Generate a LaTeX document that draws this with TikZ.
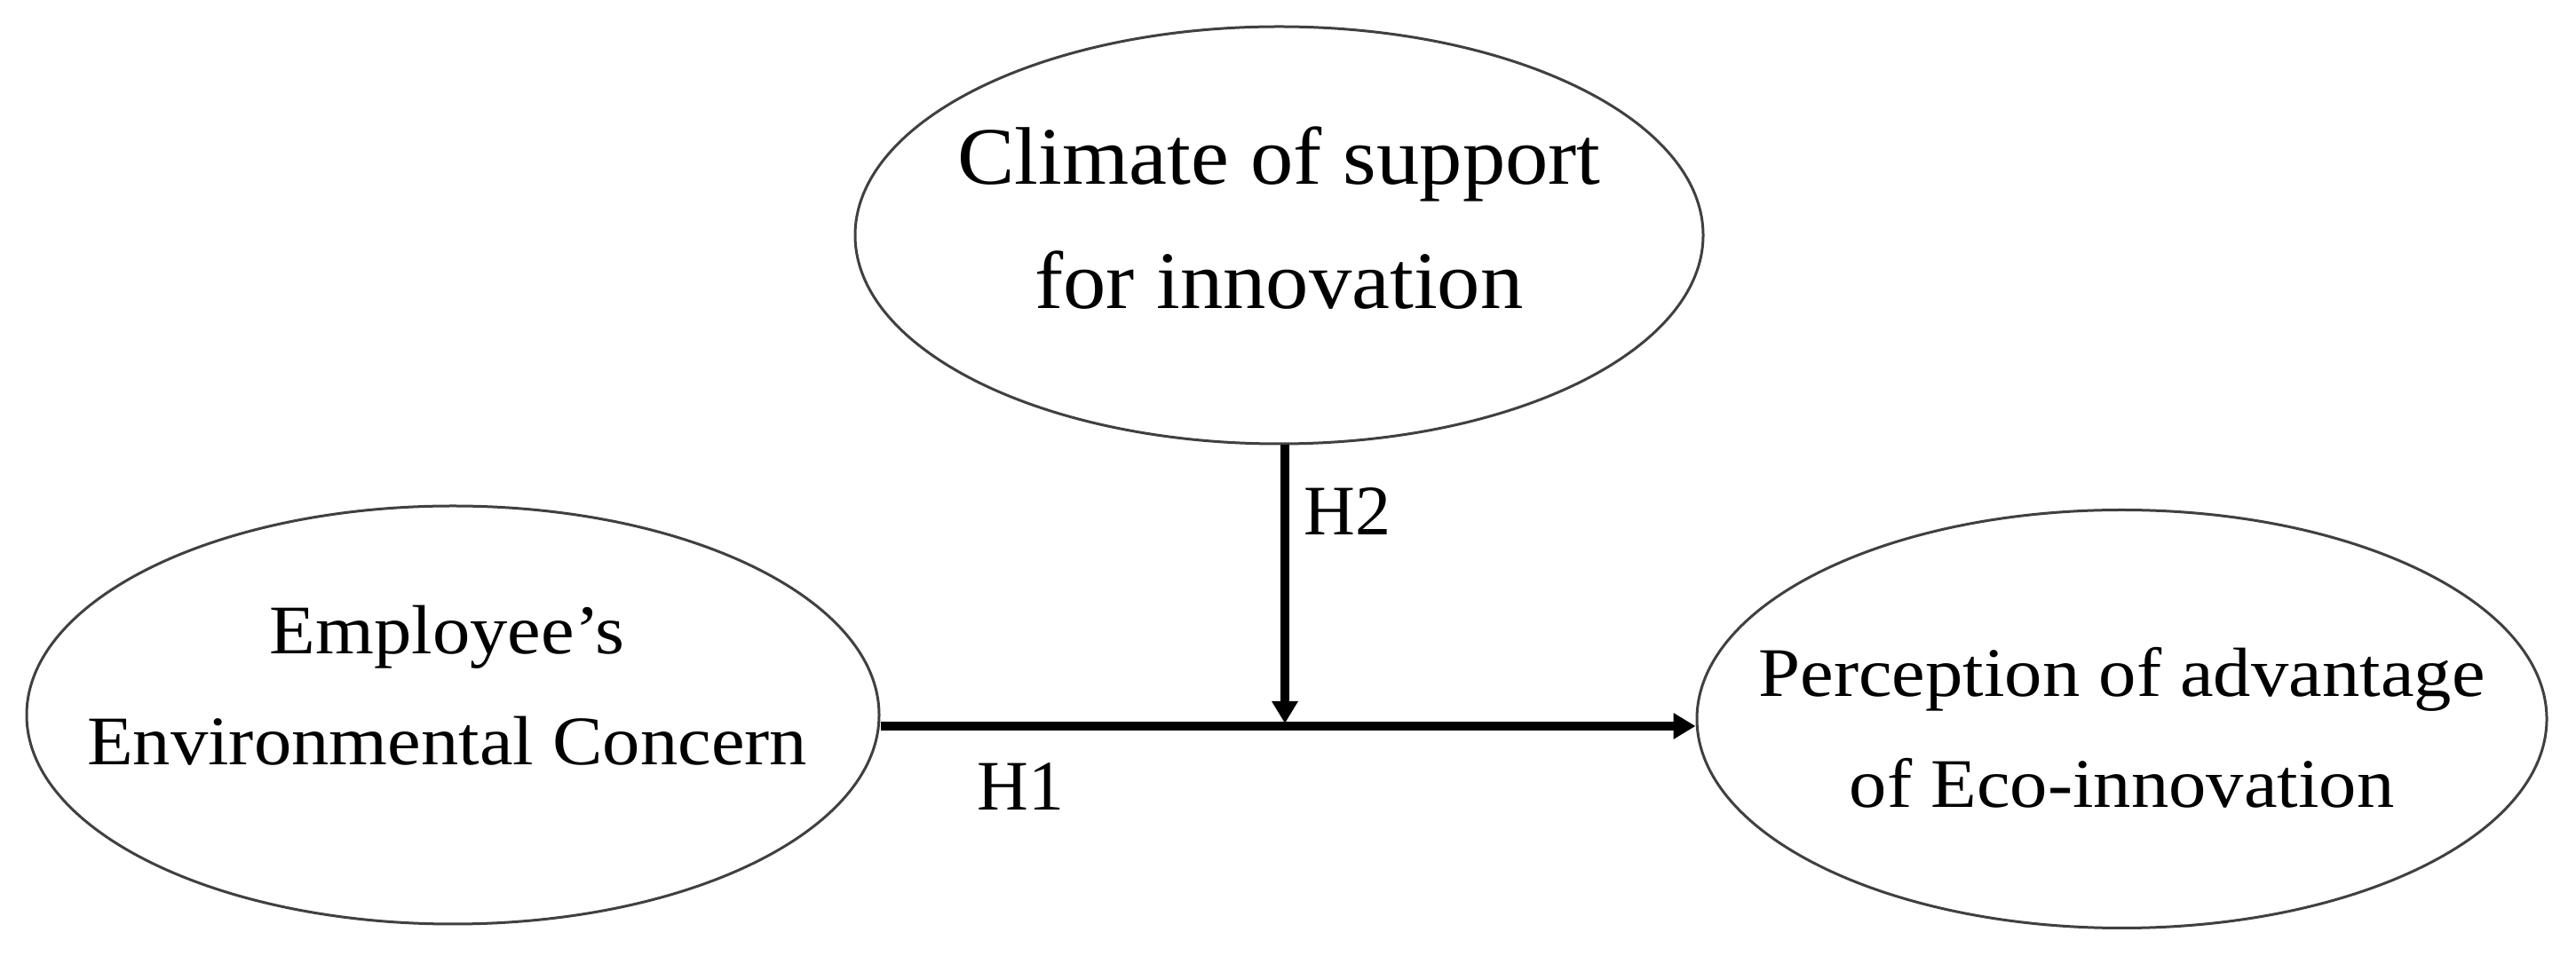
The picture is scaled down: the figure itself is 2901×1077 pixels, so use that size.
\documentclass[tikz,border=0pt]{standalone}
\usepackage{fontspec}
\setmainfont{Liberation Serif}
\newfontfamily\ovalfont[FakeStretch=1.08]{Liberation Serif}
\newfontfamily\topfont[FakeStretch=1.05]{Liberation Serif}
\usetikzlibrary{shapes.geometric,arrows.meta}
\definecolor{ovalgray}{gray}{0.25}
% two centred lines: x-offset (doubled), raise of line 1, raise of line 2
\newcommand\ovallines[5]{%
  \makebox[0pt]{\hspace*{#1}\raisebox{#2}[0pt][0pt]{#4}}%
  \makebox[0pt]{\hspace*{#1}\raisebox{#3}[0pt][0pt]{#5}}}
\begin{document}
\begin{tikzpicture}[x=0.25pt,y=-0.25pt,
  oval/.style={ellipse, draw=ovalgray, line width=0.75pt, inner sep=0pt},
  arr/.style={line width=2.5pt, -{Triangle[length=6.25pt,width=7pt]}},
  hlabel/.style={anchor=base west, inner sep=0pt, font=\fontsize{20}{24}\selectfont}]
\useasboundingbox (0,0) rectangle (2901,1077);
\node[oval, minimum width=238.75pt, minimum height=117.5pt] (cli) at (1440.5,265)
  {\topfont\fontsize{23}{28}\selectfont\ovallines{0pt}{14.25pt}{-20.75pt}{Climate of support}{for innovation}};
\node[oval, minimum width=240pt, minimum height=117.75pt] (emp) at (510,805.5)
  {\ovalfont\fontsize{19.6}{24}\selectfont\ovallines{-3.2pt}{17.125pt}{-14.125pt}{Employee’s}{Environmental Concern}};
\node[oval, minimum width=239.25pt, minimum height=117.75pt] (per) at (2389.5,810)
  {\ovalfont\fontsize{19.6}{24}\selectfont\ovallines{0pt}{6.25pt}{-25pt}{Perception of advantage}{of Eco-innovation}};
\coordinate (j) at (1447,818);
\draw[arr] (emp.east |- j) -- (per.west |- j);
\draw[arr] (cli.south -| j) -- ([yshift=0.75pt]j);
\node[hlabel] (h2) at (1468,603) {H2};
\node[hlabel] (h1) at (1100,913) {H1};
\end{tikzpicture}
\end{document}
